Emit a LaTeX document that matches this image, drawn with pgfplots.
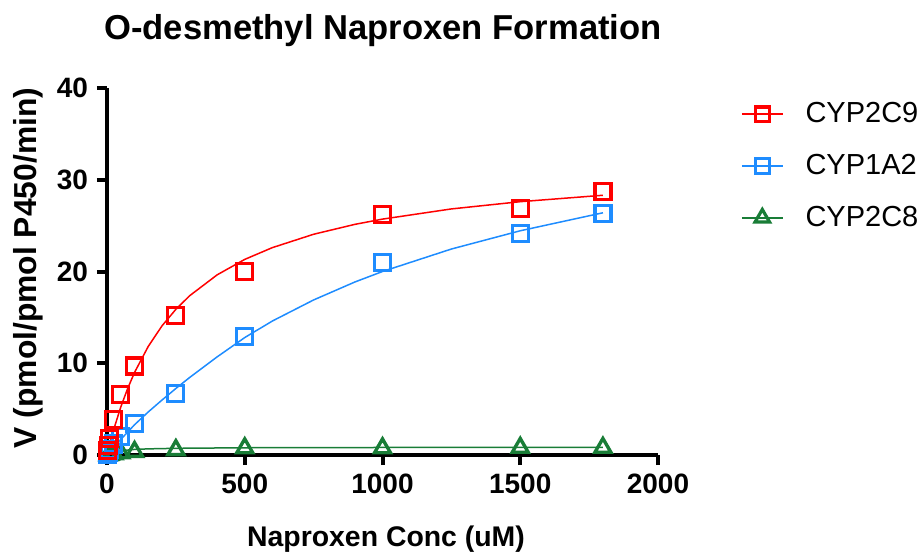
\documentclass[border=0pt]{standalone}
\usepackage{pgfplots}
\pgfplotsset{compat=1.18}
\usepackage{fontspec}
\setmainfont{Liberation Sans}
\definecolor{cred}{RGB}{255,0,0}
\definecolor{cblue}{RGB}{30,140,255}
\definecolor{cgreen}{RGB}{25,125,55}
\begin{document}
\begin{tikzpicture}
\path[use as bounding box] (-53.5pt,-48.5pt) rectangle (408.5pt,227.5pt);
\begin{axis}[
  at={(0pt,0pt)}, anchor=south west,
  scale only axis, width=275.5pt, height=183.5pt,
  xmin=0, xmax=2000, ymin=0, ymax=40,
  axis x line*=bottom, axis y line*=left,
  axis line style={line width=2pt, -},
  xtick={0,500,1000,1500,2000}, ytick={0,10,20,30,40},
  tick style={line width=2pt, black},
  tick align=outside, major tick length=5pt,
  /pgf/number format/assume math mode=true,
  /pgf/number format/1000 sep={},
  tick label style={font=\fontsize{14}{16}\selectfont\bfseries},
  xticklabel style={yshift=-1pt},
  yticklabel style={xshift=-1pt},
  clip=false,
  legend style={at={(1.15,0.967)}, anchor=north west, draw=none, fill=none,
    font=\fontsize{14.5}{17}\selectfont, row sep=12.3pt, inner sep=0pt,
    nodes={inner sep=1pt}},
  legend cell align=left,
  legend image code/.code={\draw[mark repeat=2,mark phase=2] plot coordinates {(0pt,0pt)(10.25pt,0pt)(20.5pt,0pt)} node[right=0pt]{\phantom{\hspace{8pt}}};},
]
% fitted curves
\addplot[cred, line width=0.75pt, forget plot] coordinates {
(0,0)(5,0.61)(10,1.2)(25,2.84)(50,5.23)(75,7.25)(100,9.0)(150,11.85)(200,14.09)(250,15.88)(300,17.36)(400,19.64)(500,21.32)(600,22.6)(750,24.06)(900,25.14)(1000,25.71)(1250,26.82)(1500,27.61)(1800,28.31)};
\addplot[cblue, line width=0.75pt, forget plot] coordinates {
(0,0)(10,0.34)(25,0.85)(50,1.7)(100,3.3)(150,4.7)(200,6.0)(250,7.25)(300,8.45)(400,10.7)(500,12.8)(600,14.6)(750,16.9)(900,18.86)(1000,20.0)(1250,22.45)(1500,24.44)(1800,26.4)};
\addplot[cgreen, line width=0.75pt, forget plot] coordinates {
(0,0)(10,0.17)(25,0.33)(50,0.47)(100,0.61)(150,0.67)(250,0.73)(500,0.79)(1000,0.82)(1500,0.83)(1800,0.83)};
% data
\addplot[only marks, cgreen, mark=triangle, mark size=4.6pt, mark options={line width=1.7pt}, forget plot] coordinates {
(5,0.0)(10,0.05)(25,0.1)(50,0.2)(100,0.35)(250,0.55)(500,0.75)(1000,0.75)(1500,0.8)(1800,0.8)};
\addplot[only marks, cblue, mark=square, mark size=4pt, mark options={line width=1.6pt}, forget plot] coordinates {
(2.5,0.1)(5,0.3)(10,0.6)(25,1.2)(50,2.0)(100,3.4)(250,6.7)(500,12.9)(1000,21.0)(1500,24.1)(1800,26.3)};
\addplot[only marks, cred, mark=square, mark size=4pt, mark options={line width=1.6pt}, forget plot] coordinates {
(2.5,0.5)(5,1.0)(10,1.8)(25,3.9)(50,6.6)(100,9.7)(250,15.2)(500,20.0)(1000,26.2)(1500,26.9)(1800,28.7)};
\addlegendimage{cred, line width=0.75pt, mark=square, mark size=3.6pt, mark options={line width=1.6pt}}
\addlegendentry{CYP2C9}
\addlegendimage{cblue, line width=0.75pt, mark=square, mark size=3.6pt, mark options={line width=1.6pt}}
\addlegendentry{CYP1A2}
\addlegendimage{cgreen, line width=0.75pt, mark=triangle, mark size=4.2pt, mark options={line width=1.6pt}}
\addlegendentry{CYP2C8}
\end{axis}
\node[font=\fontsize{17.3}{20}\selectfont\bfseries] at (138pt,212pt) {O-desmethyl Naproxen Formation};
\node[font=\fontsize{14.2}{16}\selectfont\bfseries, anchor=base] at (139.5pt,-45.5pt) {Naproxen Conc (uM)};
\node[font=\fontsize{15.9}{18}\selectfont\bfseries, rotate=90] at (-39.25pt,93.5pt) {V (pmol/pmol P450/min)};
\end{tikzpicture}
\end{document}
